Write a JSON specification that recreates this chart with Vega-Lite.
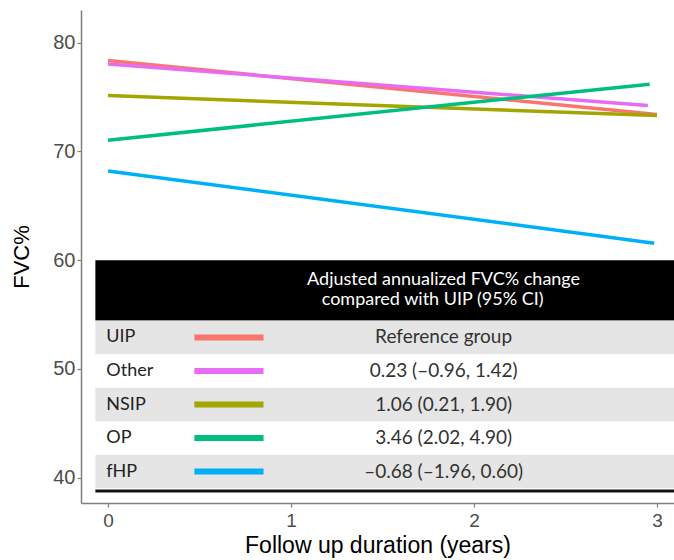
{
  "$schema": "https://vega.github.io/schema/vega-lite/v6.json",
  "width": 593,
  "height": 493,
  "autosize": {"type": "none"},
  "padding": {"left": 81, "top": 10, "right": 0, "bottom": 57},
  "background": "white",
  "config": {
    "view": {"stroke": null},
    "axis": {
      "grid": false,
      "domainColor": "#7f7f7f",
      "domainWidth": 1.5,
      "tickColor": "#7f7f7f",
      "tickWidth": 1.2,
      "tickSize": 4,
      "labelColor": "#4d4d4d",
      "labelFont": "Liberation Sans",
      "labelFontSize": 20,
      "titleFont": "Liberation Sans",
      "titleFontWeight": "normal",
      "titleColor": "#000000",
      "titleFontSize": 22
    },
    "text": {"font": "Lato"}
  },
  "datasets": {
    "trend": [
      {"group": "UIP", "years": 0, "fvc": 78.35},
      {"group": "UIP", "years": 3.0, "fvc": 73.4},
      {"group": "Other", "years": 0, "fvc": 78.04},
      {"group": "Other", "years": 2.95, "fvc": 74.21},
      {"group": "NSIP", "years": 0, "fvc": 75.13},
      {"group": "NSIP", "years": 3.0, "fvc": 73.29},
      {"group": "OP", "years": 0, "fvc": 71.03},
      {"group": "OP", "years": 2.96, "fvc": 76.18},
      {"group": "fHP", "years": 0, "fvc": 68.2},
      {"group": "fHP", "years": 2.985, "fvc": 61.56}
    ],
    "table": [
      {"group": "UIP", "estimate": "Reference group"},
      {"group": "Other", "estimate": "0.23 (–0.96, 1.42)"},
      {"group": "NSIP", "estimate": "1.06 (0.21, 1.90)"},
      {"group": "OP", "estimate": "3.46 (2.02, 4.90)"},
      {"group": "fHP", "estimate": "–0.68 (–1.96, 0.60)"}
    ]
  },
  "layer": [
    {
      "layer": [
        {
          "data": {"name": "trend"},
          "mark": {"type": "line", "strokeWidth": 3.5, "strokeCap": "butt"},
          "encoding": {
            "x": {
              "field": "years",
              "type": "quantitative",
              "scale": {"domain": [-0.1475, 3.093], "nice": false, "zero": false},
              "axis": {"values": [0, 1, 2, 3], "format": "d", "title": "Follow up duration (years)", "titlePadding": 4, "labelPadding": 4, "labelFontSize": 19, "titleFontSize": 23}
            },
            "y": {
              "field": "fvc",
              "type": "quantitative",
              "scale": {"domain": [37.67, 83.0], "nice": false, "zero": false},
              "axis": {"values": [40, 50, 60, 70, 80], "title": "FVC%", "titlePadding": 19, "labelPadding": 2}
            },
            "color": {
              "field": "group",
              "type": "nominal",
              "scale": {
                "domain": ["UIP", "Other", "NSIP", "OP", "fHP"],
                "range": ["#F8766D", "#E76BF3", "#A3A500", "#00BF7D", "#00B0F6"]
              },
              "legend": null
            }
          }
        },
        {
          "data": {"values": [{}]},
          "mark": {"type": "rect", "color": "#000000"},
          "encoding": {
            "x": {"datum": -0.069, "type": "quantitative"},
            "x2": {"datum": 3.093},
            "y": {"datum": 60, "type": "quantitative"},
            "y2": {"datum": 54.44}
          }
        },
        {
          "data": {"values": [{}]},
          "mark": {"type": "text", "color": "#ffffff", "fontSize": 18, "align": "center", "baseline": "alphabetic"},
          "encoding": {
            "x": {"datum": 1.834, "type": "quantitative"},
            "y": {"datum": 57.7, "type": "quantitative"},
            "text": {"value": "Adjusted annualized FVC% change"}
          }
        },
        {
          "data": {"values": [{}]},
          "mark": {"type": "text", "color": "#ffffff", "fontSize": 18, "align": "center", "baseline": "alphabetic"},
          "encoding": {
            "x": {"datum": 1.774, "type": "quantitative"},
            "y": {"datum": 55.86, "type": "quantitative"},
            "text": {"value": "compared with UIP (95% CI)"}
          }
        },
        {
          "data": {"values": [{}]},
          "mark": {"type": "rule", "color": "#111111", "strokeWidth": 3},
          "encoding": {
            "x": {"datum": -0.069, "type": "quantitative"},
            "x2": {"datum": 3.093},
            "y": {"datum": 38.78, "type": "quantitative"}
          }
        }
      ]
    },
    {
      "data": {"name": "table"},
      "encoding": {
        "y": {
          "field": "group",
          "type": "nominal",
          "scale": {
            "type": "band",
            "domain": ["UIP", "Other", "NSIP", "OP", "fHP"],
            "range": [310.7, 478.3],
            "paddingInner": 0,
            "paddingOuter": 0
          },
          "axis": null
        }
      },
      "layer": [
        {
          "transform": [{"filter": {"field": "group", "oneOf": ["UIP", "NSIP", "fHP"]}}],
          "mark": {"type": "rect", "color": "#e5e5e5"},
          "encoding": {
            "x": {"datum": -0.069, "type": "quantitative"},
            "x2": {"datum": 3.093}
          }
        },
        {
          "mark": {"type": "text", "color": "#222222", "fontSize": 18, "align": "left", "baseline": "middle"},
          "encoding": {
            "x": {"datum": -0.009, "type": "quantitative"},
            "text": {"field": "group"}
          }
        },
        {
          "mark": {"type": "rule", "strokeWidth": 6, "strokeCap": "butt"},
          "encoding": {
            "x": {"datum": 0.472, "type": "quantitative"},
            "x2": {"datum": 0.85},
            "color": {"field": "group", "type": "nominal", "legend": null}
          }
        },
        {
          "mark": {"type": "text", "color": "#333333", "fontSize": 19, "align": "center", "baseline": "middle"},
          "encoding": {
            "x": {"datum": 1.834, "type": "quantitative"},
            "text": {"field": "estimate"}
          }
        }
      ]
    }
  ],
  "resolve": {"scale": {"y": "independent"}}
}
